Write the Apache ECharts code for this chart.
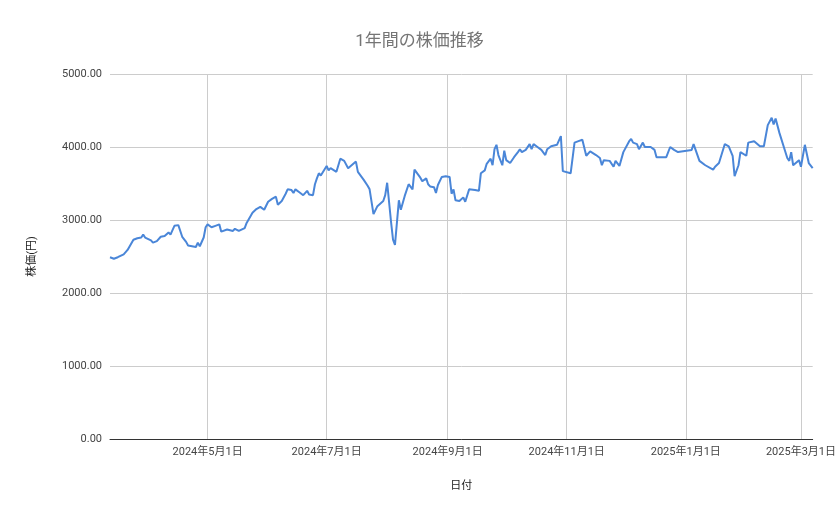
<!DOCTYPE html><html><head><meta charset="utf-8"><script src="https://cdn.jsdelivr.net/npm/echarts@6/dist/echarts.min.js"></script></head><body style="margin:0"><div id="c" style="width:839px;height:519px"></div><script>
const dates=["2024-03-12","2024-03-14","2024-03-16","2024-03-19","2024-03-21","2024-03-24","2024-03-26","2024-03-28","2024-03-29","2024-03-30","2024-04-02","2024-04-03","2024-04-05","2024-04-07","2024-04-09","2024-04-11","2024-04-12","2024-04-14","2024-04-16","2024-04-17","2024-04-18","2024-04-20","2024-04-21","2024-04-25","2024-04-26","2024-04-27","2024-04-29","2024-04-30","2024-05-01","2024-05-03","2024-05-05","2024-05-07","2024-05-08","2024-05-11","2024-05-14","2024-05-15","2024-05-17","2024-05-20","2024-05-21","2024-05-22","2024-05-24","2024-05-26","2024-05-28","2024-05-30","2024-06-01","2024-06-03","2024-06-05","2024-06-06","2024-06-08","2024-06-10","2024-06-11","2024-06-13","2024-06-14","2024-06-15","2024-06-17","2024-06-19","2024-06-21","2024-06-22","2024-06-24","2024-06-25","2024-06-26","2024-06-27","2024-06-28","2024-07-01","2024-07-02","2024-07-03","2024-07-06","2024-07-08","2024-07-10","2024-07-12","2024-07-16","2024-07-17","2024-07-20","2024-07-22","2024-07-23","2024-07-25","2024-07-27","2024-07-30","2024-07-31","2024-08-01","2024-08-03","2024-08-04","2024-08-05","2024-08-07","2024-08-08","2024-08-10","2024-08-12","2024-08-14","2024-08-15","2024-08-18","2024-08-19","2024-08-21","2024-08-22","2024-08-23","2024-08-25","2024-08-26","2024-08-27","2024-08-29","2024-08-31","2024-09-02","2024-09-03","2024-09-04","2024-09-05","2024-09-07","2024-09-09","2024-09-10","2024-09-12","2024-09-15","2024-09-17","2024-09-18","2024-09-20","2024-09-21","2024-09-23","2024-09-24","2024-09-25","2024-09-26","2024-09-27","2024-09-29","2024-09-30","2024-10-01","2024-10-03","2024-10-05","2024-10-07","2024-10-08","2024-10-09","2024-10-11","2024-10-13","2024-10-14","2024-10-15","2024-10-17","2024-10-19","2024-10-21","2024-10-22","2024-10-24","2024-10-27","2024-10-29","2024-10-30","2024-11-03","2024-11-05","2024-11-07","2024-11-09","2024-11-11","2024-11-13","2024-11-16","2024-11-18","2024-11-19","2024-11-20","2024-11-23","2024-11-25","2024-11-26","2024-11-28","2024-11-30","2024-12-03","2024-12-04","2024-12-05","2024-12-07","2024-12-08","2024-12-10","2024-12-11","2024-12-14","2024-12-16","2024-12-17","2024-12-20","2024-12-22","2024-12-24","2024-12-26","2024-12-28","2025-01-04","2025-01-05","2025-01-08","2025-01-11","2025-01-15","2025-01-16","2025-01-18","2025-01-19","2025-01-21","2025-01-23","2025-01-25","2025-01-26","2025-01-28","2025-01-29","2025-02-01","2025-02-02","2025-02-05","2025-02-08","2025-02-10","2025-02-12","2025-02-14","2025-02-15","2025-02-16","2025-02-18","2025-02-22","2025-02-23","2025-02-24","2025-02-25","2025-02-28","2025-03-01","2025-03-02","2025-03-03","2025-03-05","2025-03-07"];
const prices=[2490,2470,2490,2530,2590,2730,2750,2760,2800,2760,2720,2690,2710,2770,2780,2830,2800,2920,2930,2920,2770,2700,2650,2630,2690,2640,2760,2900,2940,2900,2920,2940,2840,2870,2850,2880,2850,2890,2960,2950,3100,3150,3180,3140,3250,3290,3320,3210,3260,3360,3420,3410,3370,3420,3380,3340,3400,3350,3340,3490,3570,3640,3610,3740,3680,3710,3660,3840,3810,3710,3800,3660,3550,3470,3420,3080,3190,3260,3340,3510,2970,2730,2660,3270,3140,3330,3490,3420,3690,3580,3530,3570,3490,3460,3450,3370,3480,3590,3600,3590,3360,3420,3270,3260,3310,3250,3420,3410,3400,3640,3680,3770,3840,3750,3970,4030,3890,3750,3950,3820,3780,3860,3930,3970,3930,3960,4040,3970,4040,4000,3960,3890,3970,4010,4030,4150,3670,3640,4060,4080,4100,3880,3940,3890,3850,3750,3820,3810,3730,3810,3740,3930,4080,4110,4060,4040,3970,4060,4000,4000,3960,3860,3860,3860,4000,3960,3930,3960,4040,3810,3750,3690,3730,3780,3770,4040,4010,3880,3600,3750,3930,3880,4060,4080,4010,4010,4300,4400,4310,4390,4190,3850,3810,3930,3750,3820,3730,3710,4030,3780,3710];
const tickDates=["2024-05-01","2024-07-01","2024-09-01","2024-11-01","2025-01-01","2025-03-01"];
const yTicks=[0,1000,2000,3000,4000,5000];
const ts=s=>Date.UTC(+s.slice(0,4),+s.slice(5,7)-1,+s.slice(8,10));
const ticks=tickDates.map(ts);
const f="Roboto, 'Noto Sans CJK JP', sans-serif";
const ch=echarts.init(document.getElementById('c'));
ch.setOption({
 title:{text:"1年間の株価推移",left:"center",top:28,textStyle:{fontSize:17,fontWeight:"normal",color:"#757575",fontFamily:f}},
 grid:{left:110,right:26,top:74,bottom:80},
 xAxis:{type:"value",min:ts(dates[0]),max:ts(dates[dates.length-1]),name:"日付",nameLocation:"middle",nameGap:42,nameTextStyle:{fontSize:11,color:"#222",fontFamily:f},
  axisLine:{onZero:false,lineStyle:{color:"#333"}},axisTick:{show:false,customValues:ticks},
  axisLabel:{customValues:ticks,color:"#444",fontSize:11,fontFamily:f,formatter:v=>{const d=new Date(v);return d.getUTCFullYear()+"年"+(d.getUTCMonth()+1)+"月"+d.getUTCDate()+"日";}},
  splitLine:{show:true,lineStyle:{color:"#ccc"}}},
 yAxis:{type:"value",min:yTicks[0],max:yTicks[yTicks.length-1],interval:1000,name:"株価(円)",nameLocation:"middle",nameGap:72,nameTextStyle:{fontSize:11,color:"#222",fontFamily:f},
  axisLine:{show:false},axisTick:{show:false},axisLabel:{color:"#444",fontSize:11,fontFamily:f,formatter:v=>v.toFixed(2)},splitLine:{lineStyle:{color:"#ccc"}}},
 series:[{type:"line",data:dates.map((d,i)=>[ts(d),prices[i]]),showSymbol:false,lineStyle:{color:"#4a86d8",width:2},itemStyle:{color:"#4a86d8"}}]
});
</script></body></html>
